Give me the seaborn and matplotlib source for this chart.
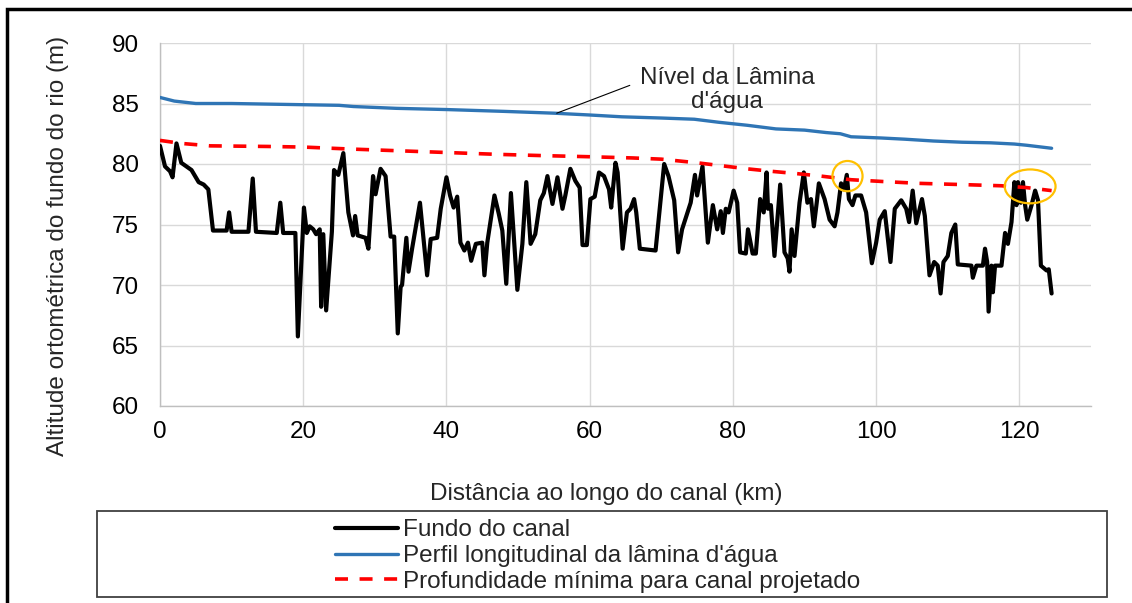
import numpy as np
import pandas as pd
import matplotlib
matplotlib.use("Agg")
import matplotlib.pyplot as plt
from matplotlib.patches import Ellipse, Rectangle
from matplotlib.ticker import MultipleLocator
import seaborn as sns

# ---------------- data ----------------
fundo_km = [0.0, 0.7, 1.4, 1.75, 2.3, 2.97, 4.4, 5.4, 6.1, 6.75, 7.4, 9.3, 9.65, 10.0, 12.35, 12.95, 13.4,
            16.3, 16.8, 17.2, 18.9, 19.25, 20.1, 20.5, 20.9, 21.4, 21.8, 22.3, 22.5, 22.8, 23.2, 24.0, 24.3,
            24.9, 25.6, 26.3, 26.95, 27.25, 27.6, 28.7, 29.1, 29.75, 30.1, 30.8, 31.5, 32.2, 32.7, 33.2, 33.6,
            33.8, 34.4, 34.7, 35.2, 36.3, 37.3, 37.8, 38.7, 39.2, 40.0, 40.5, 41.0, 41.5, 41.95, 42.5, 43.0,
            43.45, 44.1, 45.0, 45.3, 45.7, 46.7, 47.3, 47.8, 48.35, 49.0, 49.9, 50.6, 51.15, 51.75, 52.4, 53.1,
            53.6, 54.1, 54.8, 55.5, 56.2, 56.6, 57.3, 58.0, 58.6, 59.0, 59.6, 60.1, 60.7, 61.3, 62.0, 62.7,
            63.0, 63.6, 63.9, 64.6, 65.2, 65.7, 66.2, 66.5, 67.0, 69.2, 70.4, 71.0, 71.8, 72.35, 72.9, 74.1,
            74.7, 75.0, 75.75, 76.5, 77.2, 77.8, 78.3, 78.6, 79.0, 79.4, 80.1, 80.6, 81.0, 81.8, 82.1, 82.75,
            83.2, 83.8, 84.3, 84.7, 84.9, 85.3, 85.8, 86.6, 87.2, 87.65, 87.9, 88.2, 88.6, 89.3, 89.9, 90.4,
            90.9, 91.3, 91.7, 92.0, 92.8, 93.5, 94.2, 94.6, 95.1, 95.5, 95.9, 96.2, 96.7, 97.1, 97.9, 98.6,
            99.4, 100.0, 100.5, 101.2, 102.0, 102.6, 103.5, 104.2, 104.6, 105.1, 105.6, 106.4, 106.8, 107.45,
            108.1, 108.6, 109.0, 109.4, 110.0, 110.5, 111.05, 111.4, 113.3, 113.5, 114.0, 114.9, 115.2, 115.5,
            115.7, 116.1, 116.3, 116.6, 117.5, 118.0, 118.4, 118.9, 119.3, 119.6, 119.8, 120.2, 120.5, 120.8,
            121.1, 121.7, 122.2, 122.6, 123.0, 123.8, 124.1, 124.5]
fundo_m = [81.5, 79.8, 79.4, 78.9, 81.7, 80.1, 79.5, 78.5, 78.3, 77.9, 74.5, 74.5, 76.0, 74.4, 74.4, 78.8, 74.4,
           74.3, 76.8, 74.3, 74.3, 65.75, 76.4, 74.3, 74.85, 74.6, 74.2, 74.6, 68.2, 74.2, 67.9, 74.4, 79.5,
           79.1, 80.9, 76.0, 74.1, 75.7, 74.1, 73.9, 73.0, 79.0, 77.5, 79.6, 79.0, 74.0, 74.0, 66.0, 69.85,
           70.0, 73.9, 71.1, 73.0, 76.8, 70.8, 73.8, 73.9, 76.3, 78.9, 77.4, 76.4, 77.3, 73.5, 72.85, 73.5,
           72.0, 73.4, 73.5, 70.8, 73.5, 77.4, 75.9, 74.5, 70.1, 77.6, 69.6, 73.4, 78.5, 73.4, 74.2, 77.0,
           77.6, 79.0, 76.7, 78.9, 76.3, 77.4, 79.6, 78.6, 78.05, 73.3, 73.3, 77.1, 77.3, 79.3, 79.0, 77.9,
           76.4, 80.1, 79.3, 73.0, 76.0, 76.3, 77.1, 76.0, 73.0, 72.85, 80.0, 79.0, 77.0, 72.7, 74.6, 76.8,
           79.1, 77.4, 79.8, 73.5, 76.6, 74.6, 76.1, 74.3, 76.3, 76.0, 77.8, 76.8, 72.7, 72.6, 74.6, 72.6,
           72.6, 77.1, 76.0, 79.3, 76.3, 76.6, 72.4, 78.3, 72.7, 72.2, 71.1, 74.6, 72.4, 76.8, 79.3, 76.8,
           77.1, 74.85, 76.8, 78.4, 77.1, 75.4, 74.85, 76.0, 78.4, 77.9, 79.1, 77.1, 76.6, 77.4, 77.4, 76.0,
           71.8, 73.5, 75.4, 76.1, 71.9, 76.3, 77.0, 76.3, 75.2, 77.8, 75.1, 77.1, 75.7, 70.8,
           71.9, 71.6, 69.3, 71.9, 72.4, 74.3, 75.0, 71.7, 71.6, 70.6, 71.6, 71.6, 73.0, 71.9,
           67.8, 71.6, 69.4, 71.6, 71.6, 74.3, 73.4, 75.2, 78.5, 76.6, 78.5, 76.8, 78.5, 76.6,
           75.4, 76.6, 77.8, 77.0, 71.6, 71.2, 71.3, 69.3]

lamina_km = [0, 2, 5, 10, 20, 25, 27, 33, 40, 48, 55, 60, 64.5, 70, 74.6, 78, 82, 86, 90, 93, 95, 96.5,
             100.7, 104, 108, 112, 116, 119.3, 121, 124.5]
lamina_m = [85.5, 85.2, 85.0, 85.0, 84.9, 84.85, 84.75, 84.6, 84.5, 84.35, 84.2, 84.05, 83.9, 83.8, 83.7,
            83.45, 83.2, 82.9, 82.8, 82.6, 82.5, 82.25, 82.15, 82.05, 81.9, 81.8, 81.75, 81.65, 81.55, 81.3]

proj_km = [0, 3, 7, 15, 20, 26, 33, 40, 47, 53, 60, 66, 70, 75, 78.5, 82, 85.3, 89, 92.3, 96.5, 101, 106,
           112, 117.5, 121, 124.5]
proj_m = [81.95, 81.7, 81.5, 81.45, 81.4, 81.25, 81.1, 80.95, 80.8, 80.7, 80.6, 80.5, 80.4, 80.1, 79.85,
          79.6, 79.4, 79.2, 79.0, 78.7, 78.55, 78.4, 78.3, 78.2, 78.05, 77.8]

series_labels = ["Fundo do canal", "Perfil longitudinal da lâmina d'água",
                 "Profundidade mínima para canal projetado"]
x_label = "Distância ao longo do canal (km)"
y_label = "Altitude ortométrica do fundo do rio (m)"
annot_text = "Nível da Lâmina\nd'água"

# ---------------- style ----------------
sns.set_theme(style="white")
plt.rcParams["font.family"] = ["Liberation Sans", "DejaVu Sans"]
FS = 17.5

fig = plt.figure(figsize=(11.32, 6.03), dpi=100)
ax = fig.add_axes([160 / 1132, 1 - 406 / 603, 931 / 1132, 363 / 603])

df_f = pd.DataFrame({"km": fundo_km, "m": fundo_m})
df_l = pd.DataFrame({"km": lamina_km, "m": lamina_m})
df_p = pd.DataFrame({"km": proj_km, "m": proj_m})

sns.lineplot(data=df_f, x="km", y="m", ax=ax, color="black", lw=3.0, sort=False,
             estimator=None, label=series_labels[0], zorder=3)
sns.lineplot(data=df_l, x="km", y="m", ax=ax, color="#2F75B5", lw=2.4, sort=False,
             estimator=None, label=series_labels[1], zorder=3)
sns.lineplot(data=df_p, x="km", y="m", ax=ax, color="#FF0000", lw=2.6, sort=False,
             estimator=None, label=series_labels[2], zorder=4)
ax.get_lines()[2].set_dashes((3.6, 3.2))

ax.set_xlim(0, 130)
ax.set_ylim(60, 90)
ax.xaxis.set_major_locator(MultipleLocator(20))
ax.xaxis.set_minor_locator(MultipleLocator(4))
ax.yaxis.set_major_locator(MultipleLocator(5))
ax.yaxis.set_minor_locator(MultipleLocator(1))
ax.grid(True, which="major", color="#D9D9D9", lw=1.0, zorder=0)
ax.set_axisbelow(True)
for s in ["top", "right"]:
    ax.spines[s].set_visible(False)
for s in ["left", "bottom"]:
    ax.spines[s].set_color("#BFBFBF")
    ax.spines[s].set_linewidth(1.0)

ax.tick_params(axis="both", which="major", length=0, labelsize=FS, colors="black")
ax.tick_params(axis="y", which="major", pad=15)
ax.tick_params(axis="x", which="major", pad=11)
ax.tick_params(axis="both", which="minor", direction="in", length=4.5, width=0.8, color="#BFBFBF")

ax.set_xlabel(x_label, fontsize=FS)
ax.set_ylabel(y_label, fontsize=FS)
ax.xaxis.set_label_coords(0.479, -0.212)
ax.yaxis.set_label_coords(-0.098, 0.44)

# annotation
ax.annotate("", xy=(55.4, 84.2), xytext=(65.6, 86.5),
            arrowprops=dict(arrowstyle="-", color="black", lw=0.8, shrinkA=0, shrinkB=0))
ax.text(79.2, 86.1, annot_text, ha="center", va="center", fontsize=FS, multialignment="center",
        linespacing=1.1)

# orange ellipses
ax.add_patch(Ellipse((96.0, 79.0), 4.2, 2.5, fill=False, edgecolor="#FFC000", lw=1.6, zorder=6))
ax.add_patch(Ellipse((121.5, 78.15), 7.1, 2.8, fill=False, edgecolor="#FFC000", lw=1.6, zorder=6))

# legend
handles, labels = ax.get_legend_handles_labels()
ax.get_legend().remove()
fig.legend(handles, labels, loc="center left", bbox_to_anchor=(335 / 1132, 1 - 556 / 603),
           frameon=False, fontsize=FS, handlelength=2.6, handletextpad=0.2,
           labelspacing=0.15, borderpad=0, borderaxespad=0)

# legend frame box
fig.patches.append(Rectangle((97 / 1132, 1 - 597 / 603), 1010 / 1132, 86 / 603,
                             transform=fig.transFigure, fill=False, edgecolor="#404040", lw=1.3))
# outer border
fig.patches.append(Rectangle((7 / 1132, -0.5), 2.0, 0.5 + (1 - 9 / 603),
                             transform=fig.transFigure, fill=False, edgecolor="black", lw=2.5))

fig.savefig("out.png", dpi=100)
